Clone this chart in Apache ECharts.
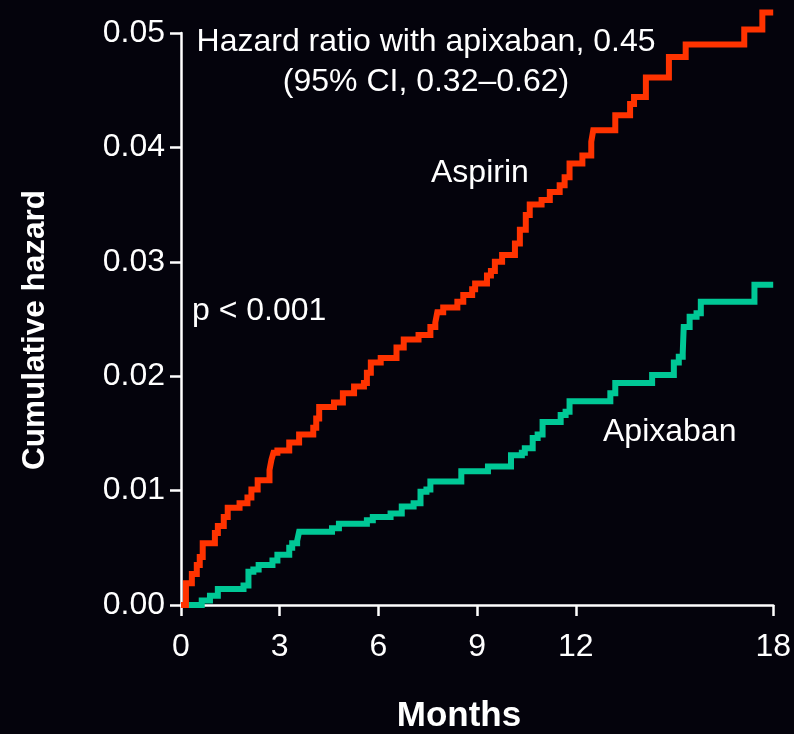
<!DOCTYPE html>
<html>
<head>
<meta charset="utf-8">
<script src="https://cdn.jsdelivr.net/npm/echarts@6/dist/echarts.min.js"></script>
<style>
html,body{margin:0;padding:0;background:#04030c;}
#chart{width:794px;height:734px;}
</style>
</head>
<body>
<div id="chart"></div>
<script>
// Tick labels
const xTicks = [0, 3, 6, 9, 12, 18];
const yTicks = [0, 0.01, 0.02, 0.03, 0.04, 0.05];

// Aspirin cumulative hazard (step points: month, value after event)
const aspirinMonths = [0, 0.15, 0.33, 0.48, 0.57, 0.66, 1.03, 1.12, 1.30, 1.42, 1.78, 2.02, 2.14, 2.33, 2.69, 2.75, 2.81, 2.93, 3.29, 3.59, 4.02, 4.11, 4.20, 4.65, 4.92, 5.26, 5.56, 5.65, 5.77, 6.07, 6.55, 6.77, 7.22, 7.58, 7.73, 7.79, 7.97, 8.40, 8.58, 8.85, 8.94, 9.30, 9.42, 9.54, 9.76, 10.15, 10.30, 10.48, 10.60, 10.96, 11.21, 11.51, 11.66, 11.81, 12.20, 12.47, 12.53, 13.20, 13.65, 13.77, 14.13, 14.83, 15.34, 17.12, 17.67, 18.0];
const aspirinHazard = [0, 0.0019, 0.0027, 0.0035, 0.0042, 0.0054, 0.0063, 0.0069, 0.0077, 0.0085, 0.0089, 0.0094, 0.0101, 0.0109, 0.0118, 0.0127, 0.0133, 0.0135, 0.0142, 0.0149, 0.0155, 0.0163, 0.0173, 0.0177, 0.0185, 0.0191, 0.0194, 0.0203, 0.0212, 0.0216, 0.0225, 0.0232, 0.0236, 0.0243, 0.0247, 0.0256, 0.0260, 0.0265, 0.0271, 0.0276, 0.0281, 0.0288, 0.0292, 0.0300, 0.0306, 0.0316, 0.0328, 0.0341, 0.0350, 0.0354, 0.0361, 0.0367, 0.0374, 0.0386, 0.0393, 0.0405, 0.0415, 0.0428, 0.0438, 0.0444, 0.0461, 0.0479, 0.0490, 0.0503, 0.0518, 0.0518];

// Apixaban cumulative hazard
const apixabanMonths = [0, 0.63, 0.88, 1.12, 1.90, 2.05, 2.20, 2.36, 2.78, 2.93, 3.29, 3.38, 3.53, 3.59, 4.59, 4.80, 5.65, 5.83, 6.37, 6.71, 7.07, 7.28, 7.46, 7.58, 8.52, 9.33, 10.03, 10.36, 10.45, 10.69, 10.84, 10.99, 11.54, 11.69, 11.81, 13.05, 13.20, 14.32, 14.98, 15.13, 15.25, 15.28, 15.46, 15.67, 15.80, 17.43, 18.0];
const apixabanHazard = [0, 0.0004, 0.0008, 0.0014, 0.0017, 0.0029, 0.0031, 0.0035, 0.0039, 0.0044, 0.0050, 0.0054, 0.0056, 0.0064, 0.0067, 0.0071, 0.0074, 0.0077, 0.0080, 0.0086, 0.0089, 0.0099, 0.0101, 0.0108, 0.0117, 0.0121, 0.0131, 0.0133, 0.0137, 0.0146, 0.0149, 0.0160, 0.0166, 0.0169, 0.0178, 0.0185, 0.0194, 0.0201, 0.0212, 0.0217, 0.0220, 0.0243, 0.0252, 0.0255, 0.0265, 0.0280, 0.0280];

const FONT = "'Liberation Sans', Arial, Helvetica, sans-serif";
const WHITE = '#ffffff';
const RED = '#ff3300';
const TEAL = '#00c896';

const zip = (xs, ys) => xs.map((x, i) => [x, ys[i]]);

const chart = echarts.init(document.getElementById('chart'), null, {renderer: 'canvas'});
chart.setOption({
  backgroundColor: '#04030c',
  animation: false,
  grid: {left: 181, top: 33, width: 594, height: 572},
  xAxis: {
    type: 'value', min: 0, max: 18, interval: 3,
    axisLine: {show: true, onZero: false, lineStyle: {color: WHITE, width: 2.5}},
    axisTick: {show: true, length: 11, customValues: xTicks, lineStyle: {color: WHITE, width: 2.5}},
    axisLabel: {customValues: xTicks, color: WHITE, fontFamily: FONT, fontSize: 32, margin: 26},
    splitLine: {show: false}
  },
  yAxis: {
    type: 'value', min: 0, max: 0.05, interval: 0.01,
    axisLine: {show: true, onZero: false, lineStyle: {color: WHITE, width: 2.5}},
    axisTick: {show: true, length: 11, customValues: yTicks, lineStyle: {color: WHITE, width: 2.5}},
    axisLabel: {customValues: yTicks, color: WHITE, fontFamily: FONT, fontSize: 32, margin: 16,
      formatter: v => v.toFixed(2)},
    splitLine: {show: false}
  },
  series: [
    {
      name: 'Apixaban', type: 'line', step: 'end', showSymbol: false, symbol: 'none', clip: false,
      data: zip(apixabanMonths, apixabanHazard),
      lineStyle: {color: TEAL, width: 6, join: 'miter'}, z: 3
    },
    {
      name: 'Aspirin', type: 'line', step: 'end', showSymbol: false, symbol: 'none', clip: false,
      data: zip(aspirinMonths, aspirinHazard),
      lineStyle: {color: RED, width: 6, join: 'miter'}, z: 4
    }
  ],
  graphic: [
    {type: 'text', x: 426, y: 42, style: {text: 'Hazard ratio with apixaban, 0.45', fill: WHITE, font: '32px ' + FONT, textAlign: 'center', textVerticalAlign: 'middle', align: 'center', verticalAlign: 'middle'}},
    {type: 'text', x: 426, y: 82, style: {text: '(95% CI, 0.32\u20130.62)', fill: WHITE, font: '32px ' + FONT, textAlign: 'center', textVerticalAlign: 'middle', align: 'center', verticalAlign: 'middle'}},
    {type: 'text', x: 431, y: 173, style: {text: 'Aspirin', fill: WHITE, font: '32px ' + FONT, textAlign: 'left', textVerticalAlign: 'middle', align: 'left', verticalAlign: 'middle'}},
    {type: 'text', x: 192, y: 311, style: {text: 'p < 0.001', fill: WHITE, font: '32px ' + FONT, textAlign: 'left', textVerticalAlign: 'middle', align: 'left', verticalAlign: 'middle'}},
    {type: 'text', x: 603, y: 432, style: {text: 'Apixaban', fill: WHITE, font: '32px ' + FONT, textAlign: 'left', textVerticalAlign: 'middle', align: 'left', verticalAlign: 'middle'}},
    {type: 'text', x: 459, y: 716, style: {text: 'Months', fill: WHITE, font: 'bold 35px ' + FONT, textAlign: 'center', textVerticalAlign: 'middle', align: 'center', verticalAlign: 'middle'}},
    {type: 'text', x: 35, y: 330, rotation: Math.PI / 2, style: {text: 'Cumulative hazard', fill: WHITE, font: 'bold 31.5px ' + FONT, textAlign: 'center', textVerticalAlign: 'middle', align: 'center', verticalAlign: 'middle'}}
  ]
});
</script>
</body>
</html>
